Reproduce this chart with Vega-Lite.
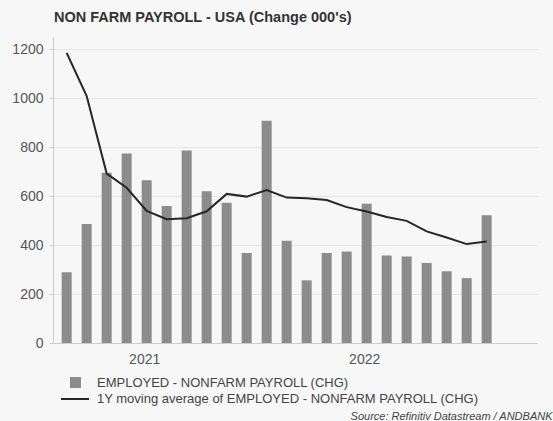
{
  "$schema": "https://vega.github.io/schema/vega-lite/v6.json",
  "width": 484,
  "height": 306,
  "autosize": {"type": "none"},
  "padding": {"left": 53, "top": 37, "right": 16, "bottom": 78},
  "background": "#f7f7f7",
  "title": {
    "text": "NON FARM PAYROLL - USA (Change 000's)",
    "anchor": "start",
    "frame": "group",
    "font": "Liberation Sans",
    "fontSize": 14.5,
    "fontWeight": "bold",
    "color": "#333333",
    "offset": 12,
    "dx": 1
  },
  "config": {
    "view": {"stroke": null},
    "font": "Liberation Sans"
  },
  "data": {
    "values": [
      {"month": "2021-04", "nfp": 289, "ma": 1185},
      {"month": "2021-05", "nfp": 486, "ma": 1009},
      {"month": "2021-06", "nfp": 695, "ma": 692},
      {"month": "2021-07", "nfp": 774, "ma": 634},
      {"month": "2021-08", "nfp": 665, "ma": 540},
      {"month": "2021-09", "nfp": 560, "ma": 506},
      {"month": "2021-10", "nfp": 786, "ma": 510},
      {"month": "2021-11", "nfp": 620, "ma": 538},
      {"month": "2021-12", "nfp": 573, "ma": 609},
      {"month": "2022-01", "nfp": 368, "ma": 598},
      {"month": "2022-02", "nfp": 908, "ma": 625},
      {"month": "2022-03", "nfp": 418, "ma": 594},
      {"month": "2022-04", "nfp": 256, "ma": 591},
      {"month": "2022-05", "nfp": 368, "ma": 584},
      {"month": "2022-06", "nfp": 374, "ma": 555},
      {"month": "2022-07", "nfp": 569, "ma": 537},
      {"month": "2022-08", "nfp": 357, "ma": 515},
      {"month": "2022-09", "nfp": 353, "ma": 499},
      {"month": "2022-10", "nfp": 327, "ma": 456},
      {"month": "2022-11", "nfp": 293, "ma": 431},
      {"month": "2022-12", "nfp": 265, "ma": 404},
      {"month": "2023-01", "nfp": 522, "ma": 415}
    ]
  },
  "encoding": {
    "x": {
      "field": "month",
      "type": "ordinal",
      "sort": null,
      "scale": {
        "domain": ["2021-04", "2021-05", "2021-06", "2021-07", "2021-08", "2021-09", "2021-10", "2021-11", "2021-12", "2022-01", "2022-02", "2022-03", "2022-04", "2022-05", "2022-06", "2022-07", "2022-08", "2022-09", "2022-10", "2022-11", "2022-12", "2023-01", "2023-02", "2023-03"],
        "paddingInner": 0.5,
        "paddingOuter": 0.35,
        "align": 0.62
      },
      "axis": {
        "values": ["2021-08", "2022-07"],
        "labelExpr": "slice(datum.value, 0, 4)",
        "labelAngle": 0,
        "labelFont": "Liberation Sans",
        "labelFontSize": 14,
        "labelColor": "#555555",
        "labelPadding": 9,
        "labelOffset": -2,
        "ticks": false,
        "domainColor": "#cccccc",
        "grid": false,
        "title": "Source: Refinitiv Datastream / ANDBANK",
        "titleFont": "Liberation Sans",
        "titleFontSize": 11,
        "titleFontStyle": "italic",
        "titleFontWeight": "normal",
        "titleColor": "#444444",
        "titleAnchor": "end",
        "titleAlign": "right",
        "titleBaseline": "alphabetic",
        "titleX": 499,
        "titleY": 76
      }
    }
  },
  "layer": [
    {
      "mark": {"type": "bar", "color": "#8c8c8c"},
      "encoding": {
        "y": {
          "field": "nfp",
          "type": "quantitative",
          "scale": {"domain": [0, 1250], "nice": false},
          "axis": {
            "values": [0, 200, 400, 600, 800, 1000, 1200],
            "format": "d",
            "title": null,
            "labelFont": "Liberation Sans",
            "labelFontSize": 14,
            "labelColor": "#555555",
            "labelPadding": 6,
            "tickSize": 4,
            "tickColor": "#cccccc",
            "domainColor": "#cccccc",
            "gridColor": "#e6e6e6",
            "gridWidth": 1
          }
        },
        "color": {
          "datum": "EMPLOYED - NONFARM PAYROLL (CHG)",
          "type": "nominal",
          "scale": {"range": ["#8c8c8c"]},
          "legend": {
            "title": null,
            "orient": "none",
            "legendX": 16,
            "legendY": 339,
            "padding": 0,
            "symbolType": "square",
            "symbolSize": 121,
            "symbolStrokeWidth": 0,
            "labelOffset": 15,
            "labelFont": "Liberation Sans",
            "labelFontSize": 13,
            "labelColor": "#444444",
            "labelLimit": 500
          }
        }
      }
    },
    {
      "mark": {"type": "line", "strokeWidth": 2},
      "encoding": {
        "y": {"field": "ma", "type": "quantitative"},
        "stroke": {
          "datum": "1Y moving average of EMPLOYED - NONFARM PAYROLL (CHG)",
          "type": "nominal",
          "scale": {"range": ["#262626"]},
          "legend": {
            "title": null,
            "orient": "none",
            "legendX": 7,
            "legendY": 347,
            "padding": 0,
            "symbolType": "stroke",
            "symbolSize": 784,
            "symbolStrokeWidth": 2,
            "labelOffset": 7,
            "labelFont": "Liberation Sans",
            "labelFontSize": 13,
            "labelColor": "#444444",
            "labelLimit": 500
          }
        }
      }
    }
  ]
}
